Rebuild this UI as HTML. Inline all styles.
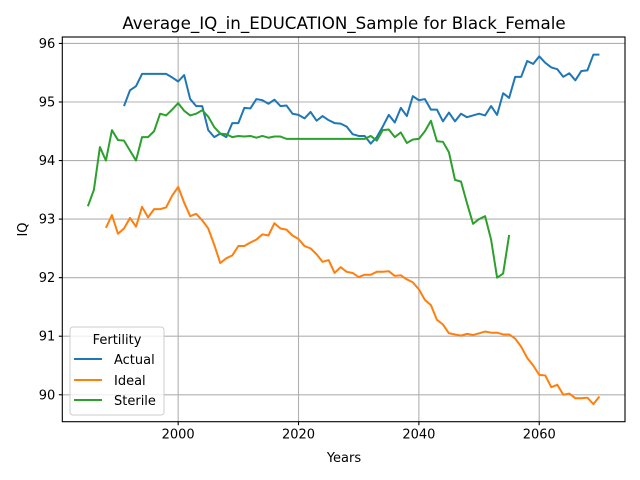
<!DOCTYPE html>
<html><head><meta charset="utf-8"><style>
body{margin:0;background:#fff;}
svg{display:block;font-family:"DejaVu Sans","Liberation Sans",sans-serif;}
</style></head><body>
<svg id="chart" width="640" height="480" viewBox="0 0 640 480">
<rect width="640" height="480" fill="#fff"/>
<text x="344" y="29" font-size="16.7" text-anchor="middle">Average_IQ_in_EDUCATION_Sample for Black_Female</text>
<g id="grid"></g><g id="series"></g><g id="axes"></g>
<text x="344" y="462" font-size="13" text-anchor="middle">Years</text>
<text x="27" y="229.5" font-size="13" text-anchor="middle" transform="rotate(-90 27 229.5)">IQ</text>
<g>
<rect x="70" y="327" width="94" height="88" rx="3" fill="#fff" fill-opacity="0.8" stroke="#ccc"/>
<text x="117" y="344" font-size="13" text-anchor="middle">Fertility</text>
<g><line x1="74" y1="359" x2="102" y2="359" stroke="#1f77b4" stroke-width="2"/><text x="114" y="364" font-size="13">Actual</text></g>
<g><line x1="74" y1="380" x2="102" y2="380" stroke="#ff7f0e" stroke-width="2"/><text x="114" y="385" font-size="13">Ideal</text></g>
<g><line x1="74" y1="400" x2="102" y2="400" stroke="#2ca02c" stroke-width="2"/><text x="114" y="405" font-size="13">Sterile</text></g>
</g>
</svg>
<script>
const xTicks=[2000,2020,2040,2060];
const yTicks=[90,91,92,93,94,95,96];
const actualStart=1991;
const actualValues=[94.93,95.2,95.27,95.48,95.48,95.48,95.48,95.48,95.42,95.35,95.46,95.05,94.93,94.93,94.52,94.40,94.46,94.40,94.64,94.64,94.9,94.89,95.05,95.03,94.97,95.04,94.93,94.94,94.80,94.78,94.72,94.83,94.68,94.76,94.69,94.64,94.63,94.58,94.45,94.42,94.42,94.29,94.40,94.58,94.78,94.65,94.9,94.76,95.1,95.03,95.05,94.87,94.87,94.67,94.82,94.67,94.8,94.74,94.77,94.80,94.77,94.93,94.78,95.15,95.07,95.43,95.43,95.70,95.65,95.78,95.67,95.59,95.56,95.43,95.49,95.37,95.53,95.54,95.81,95.81];
const idealStart=1988;
const idealValues=[92.85,93.07,92.75,92.84,93.02,92.87,93.21,93.03,93.17,93.17,93.2,93.4,93.55,93.28,93.05,93.09,92.98,92.84,92.56,92.25,92.33,92.38,92.54,92.54,92.6,92.65,92.74,92.72,92.93,92.84,92.82,92.72,92.66,92.54,92.5,92.4,92.27,92.3,92.08,92.18,92.1,92.08,92.01,92.05,92.05,92.1,92.1,92.11,92.03,92.04,91.97,91.92,91.8,91.62,91.53,91.28,91.2,91.05,91.03,91.01,91.04,91.02,91.05,91.08,91.06,91.06,91.03,91.03,90.96,90.82,90.63,90.5,90.34,90.33,90.13,90.17,90.0,90.02,89.94,89.94,89.95,89.84,89.97];
const sterileStart=1985;
const sterileValues=[93.22,93.5,94.23,94.0,94.52,94.35,94.34,94.17,94.0,94.4,94.4,94.5,94.8,94.77,94.87,94.98,94.85,94.77,94.8,94.86,94.75,94.57,94.46,94.45,94.4,94.42,94.41,94.42,94.39,94.42,94.39,94.41,94.41,94.37,94.37,94.37,94.37,94.37,94.37,94.37,94.37,94.37,94.37,94.37,94.37,94.37,94.37,94.42,94.34,94.52,94.53,94.4,94.48,94.30,94.36,94.37,94.5,94.68,94.33,94.32,94.14,93.67,93.64,93.27,92.92,93.0,93.05,92.65,92.0,92.07,92.73];

const L=62.3,R=625,T=37,B=421.7;
const xMin=1980.75,xMax=2074.25,yMin=89.54,yMax=96.11;
const xs=v=>L+(v-xMin)/(xMax-xMin)*(R-L);
const ys=v=>B-(v-yMin)/(yMax-yMin)*(B-T);
const NS="http://www.w3.org/2000/svg";
function mk(tag,attrs,parent){const e=document.createElementNS(NS,tag);for(const k in attrs)e.setAttribute(k,attrs[k]);parent.appendChild(e);return e;}
const grid=document.getElementById('grid'),axes=document.getElementById('axes'),series=document.getElementById('series');
xTicks.forEach(t=>{
 const g=mk('line',{x1:xs(t),x2:xs(t),y1:T,y2:B,stroke:'#b0b0b0','stroke-width':1.1},grid);
 
 
 mk('line',{x1:xs(t),x2:xs(t),y1:B,y2:B+3.5,stroke:'#000','stroke-width':1.1},axes);
 const tx=mk('text',{x:xs(t),y:B+17,'font-size':13,'text-anchor':'middle'},axes);
 tx.textContent=t;
 
 
});
yTicks.forEach(t=>{
 const g=mk('line',{x1:L,x2:R,y1:ys(t),y2:ys(t),stroke:'#b0b0b0','stroke-width':1.1},grid);
 
 
 mk('line',{x1:L-3.5,x2:L,y1:ys(t),y2:ys(t),stroke:'#000','stroke-width':1.1},axes);
 const tx=mk('text',{x:L-7,y:ys(t)+4.5,'font-size':13,'text-anchor':'end'},axes);
 tx.textContent=t;
 
 
});
const frame=mk('rect',{x:L,y:T,width:R-L,height:B-T,fill:'none',stroke:'#000','stroke-width':1.1},axes);


function drawLine(start,vals,color,name){
 const pts=vals.map((v,i)=>xs(start+i).toFixed(2)+','+ys(v).toFixed(2)).join(' ');
 const p=mk('polyline',{points:pts,fill:'none',stroke:color,'stroke-width':2,'stroke-linejoin':'round'},series);
 
 
}
drawLine(actualStart,actualValues,'#1f77b4','actual-line');
drawLine(idealStart,idealValues,'#ff7f0e','ideal-line');
drawLine(sterileStart,sterileValues,'#2ca02c','sterile-line');
</script>
</body></html>
